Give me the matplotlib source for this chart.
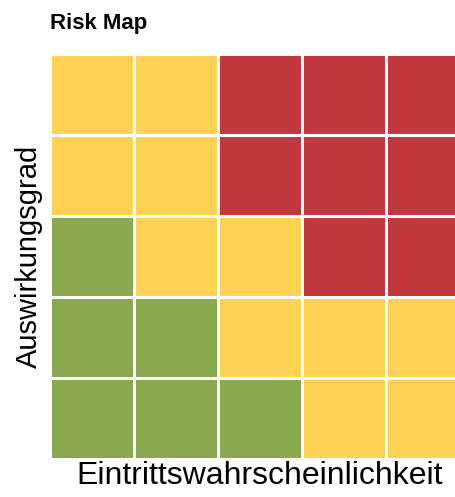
import matplotlib
matplotlib.use("Agg")
import matplotlib.pyplot as plt
from matplotlib.colors import ListedColormap
import numpy as np

plt.rcParams['font.family'] = ['Liberation Sans', 'DejaVu Sans']

title = "Risk Map"
x_label = "Eintrittswahrscheinlichkeit"
y_label = "Auswirkungsgrad"

# risk level per cell, top row first: 0 = low (green), 1 = medium (yellow), 2 = high (red)
risk_rows = [
    [1, 1, 2, 2, 2],
    [1, 1, 2, 2, 2],
    [0, 1, 1, 2, 2],
    [0, 0, 1, 1, 1],
    [0, 0, 0, 1, 1],
]
level_colors = ['#8aa84f', '#fdd153', '#c1393f']

fig = plt.figure(figsize=(4.56, 4.97), dpi=100)
# the grid runs past the right edge of the picture, as in the original
ax = fig.add_axes([50 / 456, 38 / 497, 420 / 456, 405 / 497])

grid = np.array(risk_rows[::-1])
ax.pcolormesh(grid, cmap=ListedColormap(level_colors), vmin=-0.5, vmax=2.5,
              edgecolors='white', linewidth=2)
ax.set_xlim(0, 5)
ax.set_ylim(0, 5)
ax.set_xticks([])
ax.set_yticks([])
for s in ax.spines.values():
    s.set_visible(False)

ax.set_xlabel(x_label, fontsize=23, labelpad=1.5)
ax.set_ylabel(y_label, fontsize=21, labelpad=5)
fig.text(50 / 456, 1 - 24 / 497, title, fontsize=16, fontweight='bold', va='center')

fig.savefig('out.png', dpi=100)
